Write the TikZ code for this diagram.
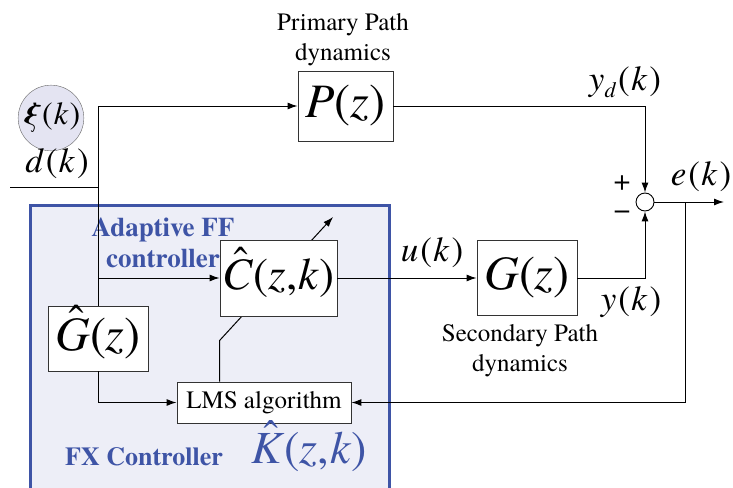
\documentclass[tikz,border=0pt]{standalone}
\usepackage{fontspec}
\setmainfont{TeX Gyre Termes}
\usetikzlibrary{arrows.meta,calc}
\definecolor{fxblue}{RGB}{62,84,166}
\definecolor{fxfill}{RGB}{237,238,247}
\definecolor{fxcirc}{RGB}{228,228,242}
\newcommand{\argk}{\kern2pt(\kern1.5pt\textit{k}\kern2pt)}
\newcommand{\hatv}[1]{\ooalign{\textit{#1}\cr\hidewidth\kern0.14em\raisebox{0.27em}{\symbol{"02C6}}\hidewidth\cr}}
\begin{document}
\begin{tikzpicture}[x=1pt, y=-1pt,
    blk/.style={draw=black!80, fill=white, line width=0.9pt, inner sep=0pt},
    sig/.style={line width=1pt, -{Latex[length=10pt,width=7pt]}},
    wire/.style={line width=1pt},
    lbl/.style={font=\fontsize{35}{37}\selectfont, inner sep=0pt},
    big/.style={font=\fontsize{48}{50}\selectfont},
    capt/.style={font=\fontsize{25}{30}\selectfont, align=center, inner sep=0pt},
    ctl/.style={font=\fontsize{26}{31}\selectfont\bfseries, text=fxblue, align=center, inner sep=0pt}]
    \clip (0,0) rectangle (733,487);
    \draw [fxblue, line width=3pt, fill=fxfill] (30,205) rectangle (389,500);

    \node [circle, draw=black!60, fill=fxcirc, minimum size=64pt, inner sep=0pt, font=\fontsize{32}{34}\selectfont] (xi) at (51,118) {\textbf{\textit{ξ}}\kern1pt(\kern1pt\textit{k}\kern1pt)};
    \node [lbl] (dk) at (57,164) {\textit{d}\argk};
    \coordinate (din) at (10,187);

    \node [blk, big, minimum width=95pt, minimum height=70pt] (P) at (345.5,106) {\textit{P}(\textit{z})};
    \node [capt] (Plbl) at (343,40) {Primary Path\\dynamics};

    \node [blk, big, minimum width=100pt, minimum height=65pt] (Gh) at (98,338.5) {\hatv{G}(\textit{z})};
    \node [blk, font=\fontsize{25}{27}\selectfont, minimum width=174pt, minimum height=41pt] (LMS) at (264,402.5) {LMS algorithm};

    % adaptation arrow, drawn before the filter box so the box hides its middle
    \coordinate (adtip) at (333,217);
    \draw [sig] ($(LMS.north west)+(43,0)$) -- ++(0,-41) -- (adtip);

    \node [blk, font=\fontsize{45}{47}\selectfont, minimum width=117pt, minimum height=76pt] (C) at (278.5,278) {\hatv{C}(\textit{z},\kern1pt\textit{k})};
    \node [blk, big, minimum width=100pt, minimum height=75pt] (G) at (527,278) {\textit{G}(\textit{z})};
    \node [capt] (Glbl) at (520,351) {Secondary Path\\dynamics};
    \node [circle, draw, fill=white, line width=0.9pt, minimum size=18pt, inner sep=0pt] (sum) at (645,202) {};

    \node [lbl] (yd) at (625,82) {\textit{y}\raisebox{-7pt}{\fontsize{22}{22}\selectfont\textit{d}}\argk};
    \node [lbl] (uk) at (432,253) {\textit{u}\argk};
    \node [lbl] (yk) at (631,302) {\textit{y}\argk};
    \node [lbl] (ek) at (701,177) {\textit{e}\argk};
    \node [lbl, font=\fontsize{30}{32}\selectfont] (plus) at (622,183) {+};
    \node [lbl, font=\fontsize{30}{32}\selectfont] (minus) at (622,215) {\symbol{"2212}};
    \coordinate (eout) at (724,202);
    \coordinate (br) at (685,202);

    \node [ctl, font=\fontsize{27}{31}\selectfont\bfseries] (ffc) at (163,243) {Adaptive FF\\controller};
    \node [ctl] (fxc) at (144,457) {FX Controller};
    \node [font=\fontsize{46}{48}\selectfont, text=fxblue, inner sep=0pt] (Kh) at (309,452) {\hatv{K}(\textit{z},\kern1pt\textit{k})};

    \draw [wire] (din) -- (din -| Gh.north);
    \draw [sig] (Gh.north) |- (P.west);
    \draw [sig] (Gh.north |- C.west) -- (C.west);
    \draw [sig] (Gh.south) |- (LMS.west);
    \draw [sig] (C.east) -- (G.west);
    \draw [sig] (P.east) -| (sum.north);
    \draw [sig] (G.east) -| (sum.south);
    \draw [sig] (sum.east) -- (eout);
    \draw [sig] (br) |- (LMS.east);
\end{tikzpicture}
\end{document}
